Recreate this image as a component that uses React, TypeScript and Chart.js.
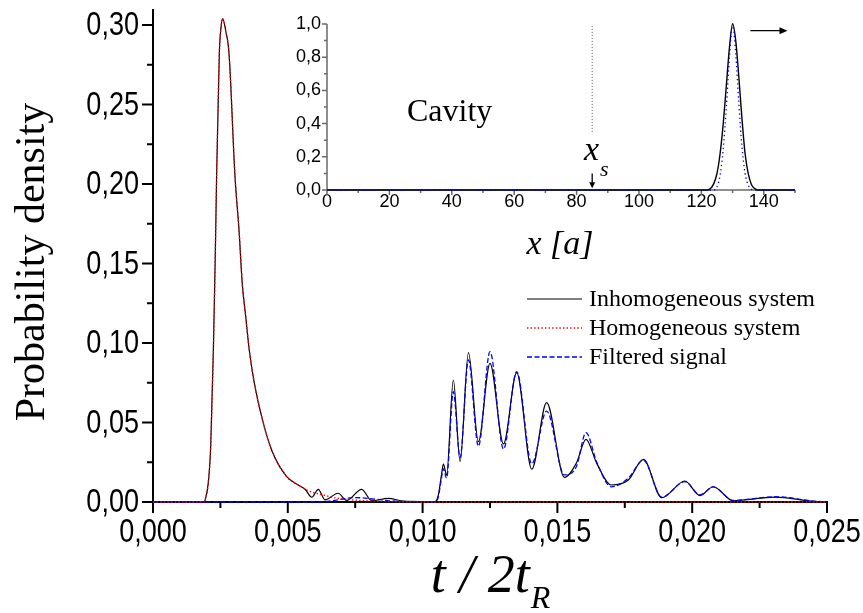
import React, { useEffect, useRef } from "react";
import { Chart, registerables } from "chart.js";

Chart.register(...registerables);

// ---------------- data (main plot) ----------------
const SERIES_LABELS = ["Inhomogeneous system", "Homogeneous system", "Filtered signal"];
const X_TITLE_MAIN = "t / 2t";
const X_TITLE_SUB = "R";
const Y_TITLE_MAIN = "Probability density";

const T_INHOM = [
  0, 0.0019, 0.00193, 0.00205, 0.00214, 0.00224, 0.00231, 0.00236, 0.00246, 0.00252, 0.002585,
  0.0027, 0.00282, 0.00304, 0.00319, 0.00331, 0.00344, 0.00357, 0.00376, 0.00403, 0.0044,
  0.00496, 0.00539, 0.00564, 0.00589, 0.00613, 0.00638, 0.00687, 0.00718, 0.00774, 0.00811,
  0.00873, 0.0093, 0.01, 0.01046, 0.01058, 0.0107, 0.01077, 0.01089, 0.01114, 0.01139, 0.0117,
  0.01207, 0.0125, 0.013, 0.01349, 0.01405, 0.0146, 0.01526, 0.01571, 0.01606, 0.01646, 0.017,
  0.01763, 0.01819, 0.01887, 0.01973, 0.02029, 0.02078, 0.02152, 0.02307, 0.0245, 0.025,
];
const P_INHOM = [
  0, 0, 0.001, 0.012, 0.035, 0.096, 0.155, 0.205, 0.282, 0.298, 0.304,
  0.296, 0.282, 0.205, 0.171, 0.1375, 0.1165, 0.0956, 0.0746, 0.0537, 0.0327,
  0.0159, 0.0107, 0.008, 0.003, 0.008, 0.0013, 0.0055, 0.001, 0.008, 0.0008,
  0.0023, 0.0005, 0.0003, 0.0003, 0.004, 0.017, 0.0239, 0.017, 0.0767, 0.0254, 0.0939,
  0.038, 0.0872, 0.0365, 0.0813, 0.0206, 0.0625, 0.0155, 0.0247, 0.0394, 0.0243, 0.0107,
  0.0138, 0.0268, 0.0027, 0.0132, 0.004, 0.0096, 0.0008, 0.0031, 0.0004, 0,
];

const T_HOM = [
  0, 0.0019, 0.00193, 0.00205, 0.00214, 0.00224, 0.00231, 0.00236, 0.00246, 0.00252, 0.002585,
  0.0027, 0.00282, 0.00304, 0.00319, 0.00331, 0.00344, 0.00357, 0.00376, 0.00403, 0.0044,
  0.00496, 0.00539, 0.0058, 0.0063, 0.0068, 0.0075, 0.0085, 0.0095, 0.0105, 0.025,
];
const P_HOM = [
  0, 0, 0.001, 0.012, 0.035, 0.096, 0.155, 0.205, 0.282, 0.298, 0.304,
  0.296, 0.282, 0.205, 0.171, 0.1375, 0.1165, 0.0956, 0.0746, 0.0537, 0.0327,
  0.0159, 0.0107, 0.0068, 0.0045, 0.0025, 0.0012, 0.0004, 0.0001, 0, 0,
];

const T_FILT = [
  0, 0.0062, 0.0068, 0.0075, 0.0082, 0.009, 0.0098, 0.01046, 0.01058, 0.0107, 0.01077, 0.01089,
  0.01114, 0.01139, 0.0117, 0.01207, 0.0125, 0.013, 0.01349, 0.01405, 0.0146, 0.01526, 0.01571,
  0.01606, 0.01646, 0.017, 0.01763, 0.01819, 0.01887, 0.01973, 0.02029, 0.02078, 0.02152,
  0.02307, 0.0245, 0.025,
];
const P_FILT = [
  0, 0, 0.0012, 0.0028, 0.0018, 0.0005, 0.0002, 0.0002, 0.003, 0.015, 0.021, 0.015,
  0.0694, 0.028, 0.0893, 0.035, 0.0945, 0.0333, 0.082, 0.024, 0.0572, 0.017, 0.0225,
  0.0436, 0.025, 0.0095, 0.015, 0.0262, 0.003, 0.0128, 0.0045, 0.0095, 0.001,
  0.0033, 0.0006, 0,
];

const MAIN_X_TICKS = [0, 0.005, 0.01, 0.015, 0.02, 0.025];
const MAIN_X_MINOR = [0.0025, 0.0075, 0.0125, 0.0175, 0.0225];
const MAIN_Y_TICKS = [0, 0.05, 0.1, 0.15, 0.2, 0.25, 0.3];
const MAIN_Y_MINOR = [0.025, 0.075, 0.125, 0.175, 0.225, 0.275];

// ---------------- data (inset) ----------------
const INSET_TEXT = "Cavity";
const INSET_X_TITLE = "x [a]";
const XS_LABEL = "x";
const XS_SUB = "s";

const X_IN_INH = [0, 122, 123, 124, 125, 126, 127, 128, 129, 130, 131, 132, 133, 134, 135, 136, 137, 138, 150];
const P_IN_INH = [0, 0, 0.01, 0.04, 0.1, 0.22, 0.4, 0.63, 0.86, 1.0, 0.9, 0.68, 0.43, 0.22, 0.1, 0.035, 0.01, 0, 0];
const X_IN_HOM = [0, 124, 125, 126, 127, 128, 129, 130, 131, 132, 133, 134, 135, 136, 137, 150];
const P_IN_HOM = [0, 0, 0.02, 0.09, 0.25, 0.5, 0.8, 1.0, 0.82, 0.52, 0.26, 0.1, 0.03, 0.005, 0, 0];
const XS_LINE_X = [85, 85];
const XS_LINE_Y = [0.35, 0.99];
const XS_ARROW = { x: 85, yFrom: 0.1, yTo: 0.01 };
const MOVE_ARROW = { xFrom: 135.7, xTo: 147.6, y: 0.96 };

const INSET_X_TICKS = [0, 20, 40, 60, 80, 100, 120, 140];
const INSET_X_MINOR = [10, 30, 50, 70, 90, 110, 130, 150];
const INSET_Y_TICKS = [0, 0.2, 0.4, 0.6, 0.8, 1.0];
const INSET_Y_MINOR = [0.1, 0.3, 0.5, 0.7, 0.9];

// ---------------- helpers ----------------
const SERIF = '"Liberation Serif", "Times New Roman", serif';
const SANS = '"Liberation Sans", Arial, sans-serif';
const NARROW_SCALE = 0.82;

const xy = (xs: number[], ys: number[]) => xs.map((x, i) => ({ x, y: ys[i] }));
const comma = (v: number, d: number) => Number(v).toFixed(d).replace(".", ",");

function arrowHead(ctx: CanvasRenderingContext2D, x: number, y: number, ang: number, len: number, half: number) {
  ctx.beginPath();
  ctx.moveTo(x, y);
  ctx.lineTo(x - len * Math.cos(ang) + half * Math.sin(ang), y - len * Math.sin(ang) - half * Math.cos(ang));
  ctx.lineTo(x - len * Math.cos(ang) - half * Math.sin(ang), y - len * Math.sin(ang) + half * Math.cos(ang));
  ctx.closePath();
  ctx.fill();
}

const mainDecor = {
  id: "mainDecor",
  beforeDatasetsDraw(chart: any) {
    const { ctx, chartArea } = chart;
    const sx = chart.scales.x;
    const sy = chart.scales.y;
    const { left, right, top, bottom } = chartArea;
    ctx.save();
    ctx.strokeStyle = "#000";
    ctx.lineWidth = 2;
    ctx.beginPath();
    ctx.moveTo(left, top);
    ctx.lineTo(left, bottom + 1);
    ctx.moveTo(left - 1, bottom);
    ctx.lineTo(right + 1, bottom);
    MAIN_Y_TICKS.forEach((v) => {
      const p = sy.getPixelForValue(v);
      ctx.moveTo(left, p);
      ctx.lineTo(left - 11, p);
    });
    MAIN_Y_MINOR.forEach((v) => {
      const p = sy.getPixelForValue(v);
      ctx.moveTo(left, p);
      ctx.lineTo(left - 6, p);
    });
    MAIN_X_TICKS.forEach((v) => {
      const p = sx.getPixelForValue(v);
      ctx.moveTo(p, bottom);
      ctx.lineTo(p, bottom + 11);
    });
    MAIN_X_MINOR.forEach((v) => {
      const p = sx.getPixelForValue(v);
      ctx.moveTo(p, bottom);
      ctx.lineTo(p, bottom + 6);
    });
    ctx.stroke();
    ctx.restore();
  },
  afterDraw(chart: any) {
    const { ctx, chartArea } = chart;
    const sx = chart.scales.x;
    const sy = chart.scales.y;
    ctx.save();
    ctx.fillStyle = "#000";
    // tick labels (condensed, like Arial Narrow)
    ctx.font = `33px ${SANS}`;
    ctx.textBaseline = "middle";
    ctx.textAlign = "center";
    sx.ticks.forEach((t: any) => {
      const p = sx.getPixelForValue(t.value);
      ctx.save();
      ctx.translate(p, chartArea.bottom + 31);
      ctx.scale(NARROW_SCALE, 1);
      ctx.fillText(comma(t.value, 3), 0, 0);
      ctx.restore();
    });
    ctx.textAlign = "right";
    sy.ticks.forEach((t: any) => {
      const p = sy.getPixelForValue(t.value);
      ctx.save();
      ctx.translate(chartArea.left - 14, p + 1);
      ctx.scale(NARROW_SCALE, 1);
      ctx.fillText(comma(t.value, 2), 0, 0);
      ctx.restore();
    });
    // y title
    ctx.save();
    ctx.translate(44, 262);
    ctx.rotate(-Math.PI / 2);
    ctx.font = `42px ${SERIF}`;
    ctx.textAlign = "center";
    ctx.textBaseline = "alphabetic";
    ctx.fillText(Y_TITLE_MAIN, 0, 0);
    ctx.restore();
    // x title
    ctx.font = `italic 54px ${SERIF}`;
    const w1 = ctx.measureText(X_TITLE_MAIN).width;
    ctx.font = `italic 32px ${SERIF}`;
    const w2 = ctx.measureText(X_TITLE_SUB).width;
    const x0 = 490 - (w1 + w2) / 2;
    ctx.textAlign = "left";
    ctx.textBaseline = "alphabetic";
    ctx.font = `italic 54px ${SERIF}`;
    ctx.fillText(X_TITLE_MAIN, x0, 592);
    ctx.font = `italic 32px ${SERIF}`;
    ctx.fillText(X_TITLE_SUB, x0 + w1 + 1, 608);
    // legend
    const rows = [300, 329, 358];
    [0, 1, 2].forEach((di, k) => {
      const ds = chart.data.datasets[di];
      const y = rows[k];
      ctx.save();
      ctx.strokeStyle = ds.borderColor;
      ctx.lineWidth = ds.borderWidth;
      ctx.setLineDash(ds.borderDash || []);
      ctx.beginPath();
      ctx.moveTo(527, y - 1);
      ctx.lineTo(582, y - 1);
      ctx.stroke();
      ctx.restore();
      ctx.font = `24px ${SERIF}`;
      ctx.textBaseline = "middle";
      ctx.fillStyle = "#000";
      ctx.fillText(ds.label, 589, y);
    });
    ctx.restore();
  },
};

const insetDecor = {
  id: "insetDecor",
  beforeDatasetsDraw(chart: any) {
    const { ctx, chartArea } = chart;
    const sx = chart.scales.x;
    const sy = chart.scales.y;
    const { left, right, top, bottom } = chartArea;
    ctx.save();
    ctx.strokeStyle = "#6a6a6a";
    ctx.lineWidth = 1.5;
    ctx.beginPath();
    ctx.moveTo(left, top);
    ctx.lineTo(left, bottom);
    ctx.lineTo(right, bottom);
    INSET_Y_TICKS.forEach((v) => {
      const p = sy.getPixelForValue(v);
      ctx.moveTo(left, p);
      ctx.lineTo(left - 5, p);
    });
    INSET_Y_MINOR.forEach((v) => {
      const p = sy.getPixelForValue(v);
      ctx.moveTo(left, p);
      ctx.lineTo(left - 3, p);
    });
    INSET_X_TICKS.forEach((v) => {
      const p = sx.getPixelForValue(v);
      ctx.moveTo(p, bottom);
      ctx.lineTo(p, bottom + 5);
    });
    INSET_X_MINOR.forEach((v) => {
      const p = sx.getPixelForValue(v);
      ctx.moveTo(p, bottom);
      ctx.lineTo(p, bottom + 3);
    });
    ctx.stroke();
    ctx.restore();
  },
  afterDraw(chart: any) {
    const { ctx } = chart;
    const sx = chart.scales.x;
    const sy = chart.scales.y;
    const off = 270; // canvas left in page coords
    ctx.save();
    ctx.fillStyle = "#000";
    ctx.textBaseline = "alphabetic";
    ctx.textAlign = "left";
    ctx.font = `32px ${SERIF}`;
    ctx.fillText(INSET_TEXT, 407 - off, 121);
    // x title
    ctx.font = `italic 34px ${SERIF}`;
    ctx.textAlign = "center";
    ctx.fillText(INSET_X_TITLE, 560 - off, 254);
    // x_s label
    ctx.textAlign = "left";
    ctx.font = `italic 34px ${SERIF}`;
    ctx.fillText(XS_LABEL, 584 - off, 160);
    ctx.font = `italic 22px ${SERIF}`;
    ctx.fillText(XS_SUB, 600 - off, 176);
    // arrows
    ctx.strokeStyle = "#000";
    ctx.lineWidth = 1.3;
    const ax = sx.getPixelForValue(XS_ARROW.x);
    const ay0 = sy.getPixelForValue(XS_ARROW.yFrom);
    const ay1 = sy.getPixelForValue(XS_ARROW.yTo);
    ctx.beginPath();
    ctx.moveTo(ax, ay0);
    ctx.lineTo(ax, ay1 - 4);
    ctx.stroke();
    arrowHead(ctx, ax, ay1, Math.PI / 2, 6, 3);
    const bx0 = sx.getPixelForValue(MOVE_ARROW.xFrom);
    const bx1 = sx.getPixelForValue(MOVE_ARROW.xTo);
    const by = sy.getPixelForValue(MOVE_ARROW.y);
    ctx.beginPath();
    ctx.moveTo(bx0, by);
    ctx.lineTo(bx1 - 5, by);
    ctx.stroke();
    arrowHead(ctx, bx1, by, 0, 8, 3.5);
    ctx.restore();
  },
};

function mainConfig(): any {
  return {
    type: "line",
    data: {
      datasets: [
        {
          label: SERIES_LABELS[0],
          data: xy(T_INHOM, P_INHOM),
          borderColor: "#000000",
          borderWidth: 1.2,
          pointRadius: 0,
          tension: 0.4,
          cubicInterpolationMode: "monotone",
          order: 3,
          clip: false,
        },
        {
          label: SERIES_LABELS[1],
          data: xy(T_HOM, P_HOM),
          borderColor: "#ff0000",
          borderWidth: 1.4,
          borderDash: [1.4, 2.2],
          pointRadius: 0,
          tension: 0.4,
          cubicInterpolationMode: "monotone",
          order: 1,
          clip: false,
        },
        {
          label: SERIES_LABELS[2],
          data: xy(T_FILT, P_FILT),
          borderColor: "#0000ff",
          borderWidth: 1.3,
          borderDash: [5, 2.5],
          pointRadius: 0,
          tension: 0.4,
          cubicInterpolationMode: "monotone",
          order: 2,
          clip: false,
        },
      ],
    },
    options: {
      responsive: false,
      animation: false,
      devicePixelRatio: 1,
      layout: { padding: { top: 9, right: 36, left: 0, bottom: 0 } },
      plugins: { legend: { display: false }, tooltip: { enabled: false } },
      scales: {
        x: {
          type: "linear",
          min: 0,
          max: 0.025,
          afterBuildTicks: (s: any) => {
            s.ticks = MAIN_X_TICKS.map((v) => ({ value: v }));
          },
          afterFit: (s: any) => {
            s.height = 111;
            s.paddingLeft = 0;
            s.paddingRight = 0;
          },
          grid: { display: false, drawTicks: false },
          border: { display: false },
          ticks: { display: false, autoSkip: false, maxRotation: 0 },
        },
        y: {
          type: "linear",
          min: 0,
          max: 0.31,
          afterBuildTicks: (s: any) => {
            s.ticks = MAIN_Y_TICKS.map((v) => ({ value: v }));
          },
          afterFit: (s: any) => {
            s.width = 153;
            s.paddingTop = 0;
            s.paddingBottom = 0;
          },
          grid: { display: false, drawTicks: false },
          border: { display: false },
          ticks: { display: false, autoSkip: false },
        },
      },
    },
    plugins: [mainDecor],
  };
}

function insetConfig(): any {
  return {
    type: "line",
    data: {
      datasets: [
        {
          label: SERIES_LABELS[0],
          data: xy(X_IN_INH, P_IN_INH),
          borderColor: "#000000",
          borderWidth: 1.4,
          pointRadius: 0,
          tension: 0.4,
          cubicInterpolationMode: "monotone",
          order: 2,
          clip: false,
        },
        {
          label: SERIES_LABELS[1],
          data: xy(X_IN_HOM, P_IN_HOM),
          borderColor: "#0000ff",
          borderWidth: 1.3,
          borderDash: [1.3, 3],
          pointRadius: 0,
          tension: 0.4,
          cubicInterpolationMode: "monotone",
          order: 1,
          clip: false,
        },
        {
          label: "x_s",
          data: xy(XS_LINE_X, XS_LINE_Y),
          borderColor: "#555555",
          borderWidth: 1,
          borderDash: [1, 2],
          pointRadius: 0,
          order: 0,
        },
      ],
    },
    options: {
      responsive: false,
      animation: false,
      devicePixelRatio: 1,
      layout: { padding: { top: 24, right: 35, left: 0, bottom: 0 } },
      plugins: { legend: { display: false }, tooltip: { enabled: false } },
      scales: {
        x: {
          type: "linear",
          min: 0,
          max: 150,
          afterBuildTicks: (s: any) => {
            s.ticks = INSET_X_TICKS.map((v) => ({ value: v }));
          },
          afterFit: (s: any) => {
            s.height = 80;
            s.paddingLeft = 0;
            s.paddingRight = 0;
          },
          grid: { display: false, drawTicks: false },
          border: { display: false },
          ticks: {
            padding: 1,
            color: "#000",
            autoSkip: false,
            maxRotation: 0,
            font: { family: SANS, size: 18 },
            callback: (v: any) => String(v),
          },
        },
        y: {
          type: "linear",
          min: 0,
          max: 1,
          afterBuildTicks: (s: any) => {
            s.ticks = INSET_Y_TICKS.map((v) => ({ value: v }));
          },
          afterFit: (s: any) => {
            s.width = 57;
            s.paddingTop = 0;
            s.paddingBottom = 0;
          },
          grid: { display: false, drawTicks: false },
          border: { display: false },
          ticks: {
            padding: 6,
            color: "#000",
            autoSkip: false,
            font: { family: SANS, size: 18 },
            callback: (v: any) => comma(v, 1),
          },
        },
      },
    },
    plugins: [insetDecor],
  };
}

export default function App() {
  const mainRef = useRef<HTMLCanvasElement>(null);
  const insetRef = useRef<HTMLCanvasElement>(null);
  useEffect(() => {
    const main = new Chart(mainRef.current as HTMLCanvasElement, mainConfig());
    const inset = new Chart(insetRef.current as HTMLCanvasElement, insetConfig());
    return () => {
      main.destroy();
      inset.destroy();
    };
  }, []);
  return (
    <div style={{ position: "fixed", left: 0, top: 0, width: 863, height: 613, background: "#fff" }}>
      <canvas
        ref={mainRef}
        width={863}
        height={613}
        style={{ position: "absolute", left: 0, top: 0, width: 863, height: 613 }}
      />
      <canvas
        ref={insetRef}
        width={560}
        height={270}
        style={{ position: "absolute", left: 270, top: 0, width: 560, height: 270 }}
      />
    </div>
  );
}
